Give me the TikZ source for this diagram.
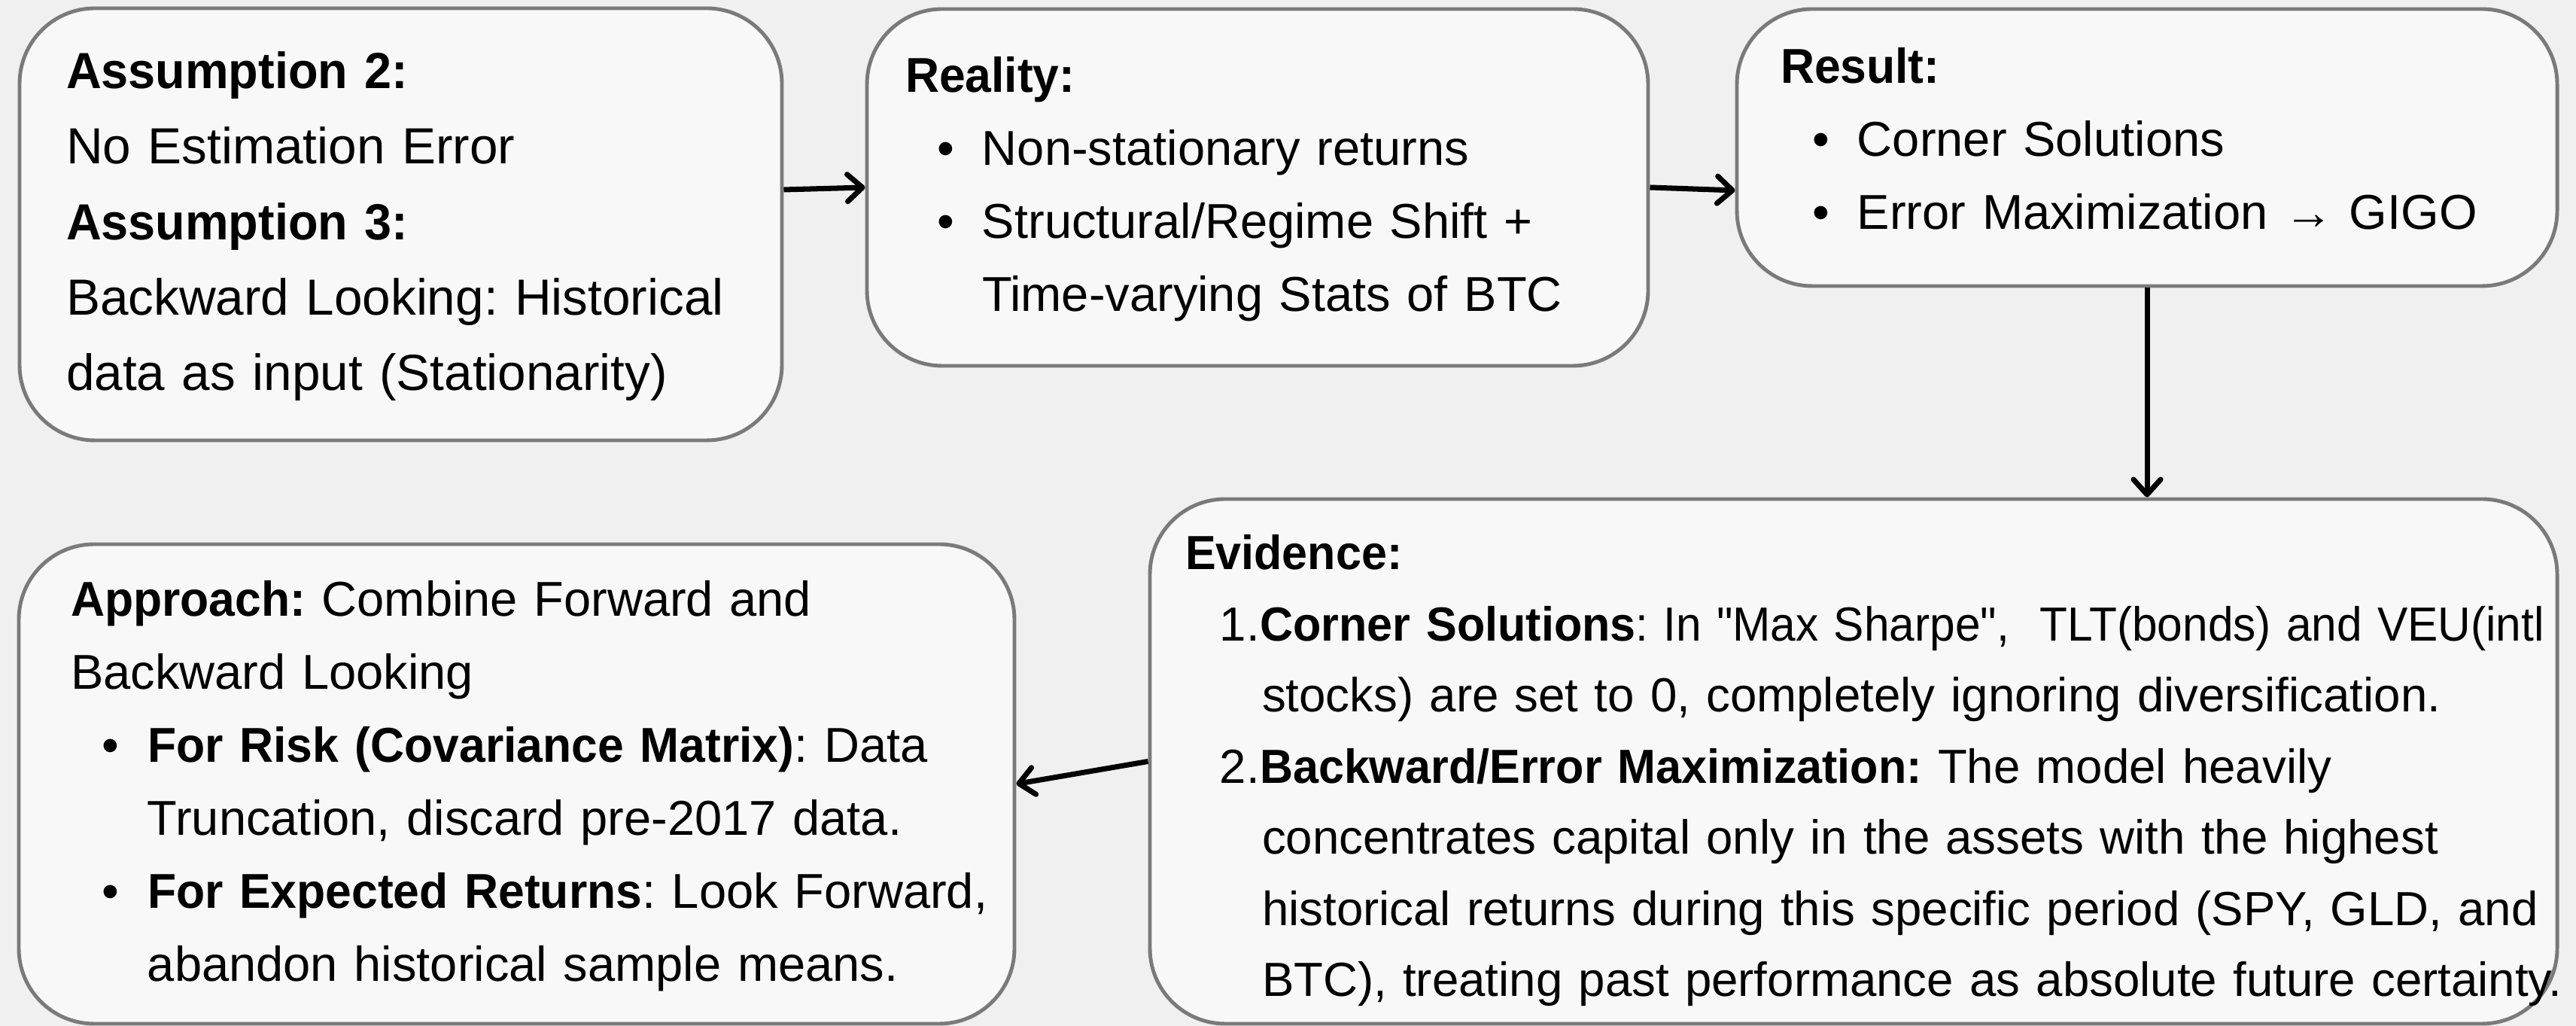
\documentclass[tikz,border=0pt]{standalone}
\usepackage{fontspec}
\setmainfont{Liberation Sans}[BoldFeatures={FakeStretch=0.96}]
\usetikzlibrary{
    arrows.meta,
    calc
}
\definecolor{bgcol}{RGB}{240,240,240}
\definecolor{boxfill}{RGB}{248,248,248}
\definecolor{boxline}{RGB}{122,122,122}
\newcommand{\bul}{\hspace*{0.42cm}\makebox[0.6cm][l]{\textbullet}}
\newcommand{\indt}{\hspace*{1.02cm}}
\newcommand{\enu}[1]{\makebox[0.99cm][r]{#1}}
\tikzset{sbox/.style={draw=boxline, fill=boxfill, line width=1.4pt, rounded corners=1cm, align=left, inner ysep=0pt, font=\fontsize{18.5}{27.6}\selectfont\frenchspacing}}
\tikzset{sarr/.style={line width=2pt, -{Straight Barb[length=2mm, width=3.6mm, round]}}}

\begin{document}
\begin{tikzpicture}
                        \fill[bgcol] (0, 0) rectangle (34.23, 13.63);
                        \useasboundingbox (0, 0) rectangle (34.23, 13.63);

                        \node[sbox, inner xsep=0.62cm, text width=8.89cm, minimum height=5.74cm, font=\fontsize{19.2}{28.5}\selectfont\frenchspacing] (assume) at (5.325, 10.65) {%
                            \begin{tabular}{@{}l@{}}
                            \textbf{Assumption 2:}\\
                            No Estimation Error\\
                            \textbf{Assumption 3:}\\
                            Backward Looking: Historical\\
                            data as input (Stationarity)
                            \end{tabular}};

                        \node[sbox, inner xsep=0.51cm, text width=9.36cm, minimum height=4.74cm] (reality) at (16.71, 11.14) {%
                            \begin{tabular}{@{}l@{}}
                            \textbf{Reality:}\\
                            \bul Non-stationary returns\\
                            \bul Structural/Regime Shift +\\
                            \indt Time-varying Stats of BTC
                            \end{tabular}};

                        \node[sbox, inner xsep=0.58cm, text width=9.74cm, minimum height=3.68cm] (result) at (28.53, 11.67) {%
                            \begin{tabular}{@{}l@{}}
                            \textbf{Result:}\\
                            \bul Corner Solutions\\
                            \bul Error Maximization → GIGO\rule[-0.45cm]{0pt}{0pt}
                            \end{tabular}};

                        \node[sbox, inner xsep=0.47cm, text width=17.76cm, minimum height=6.97cm, font=\fontsize{18.1}{26.9}\selectfont\frenchspacing] (evidence) at (24.63, 3.515) {%
                            \begin{tabular}{@{}l@{}}
                            \rule{0pt}{0.86cm}\textbf{Evidence:}\\
                            \enu{1.}\textbf{Corner Solutions}\scalebox{0.95}[1]{: In \textquotedbl Max Sharpe\textquotedbl,\ \ TLT(bonds) and VEU(intl}\\
                            \indt stocks) are set to 0, completely ignoring diversification.\\
                            \enu{2.}\textbf{Backward/Error Maximization:} The model heavily\\
                            \indt concentrates capital only in the assets with the highest\\
                            \indt historical returns during this specific period (SPY, GLD, and\\
                            \indt BTC), treating past performance as absolute future certainty.
                            \end{tabular}};

                        \node[sbox, inner xsep=0.69cm, text width=11.85cm, minimum height=6.37cm] (approach) at (6.865, 3.215) {%
                            \begin{tabular}{@{}l@{}}
                            \textbf{Approach:} Combine Forward and\\
                            Backward Looking\\
                            \bul \textbf{For Risk (Covariance Matrix)}: Data\\
                            \indt Truncation, discard pre-2017 data.\\
                            \bul \textbf{For Expected Returns}: Look Forward,\\
                            \indt abandon historical sample means.
                            \end{tabular}};

                        \draw[sarr] ([yshift=0.46cm]assume.east) -- (reality.west);
                        \draw[sarr] (reality.east) -- ([yshift=-0.57cm]result.west);
                        \draw[sarr] (result.south) -- (result.south |- evidence.north);
                        \draw[sarr] (evidence.west) -- (approach.east);
                    \end{tikzpicture}
\end{document}
